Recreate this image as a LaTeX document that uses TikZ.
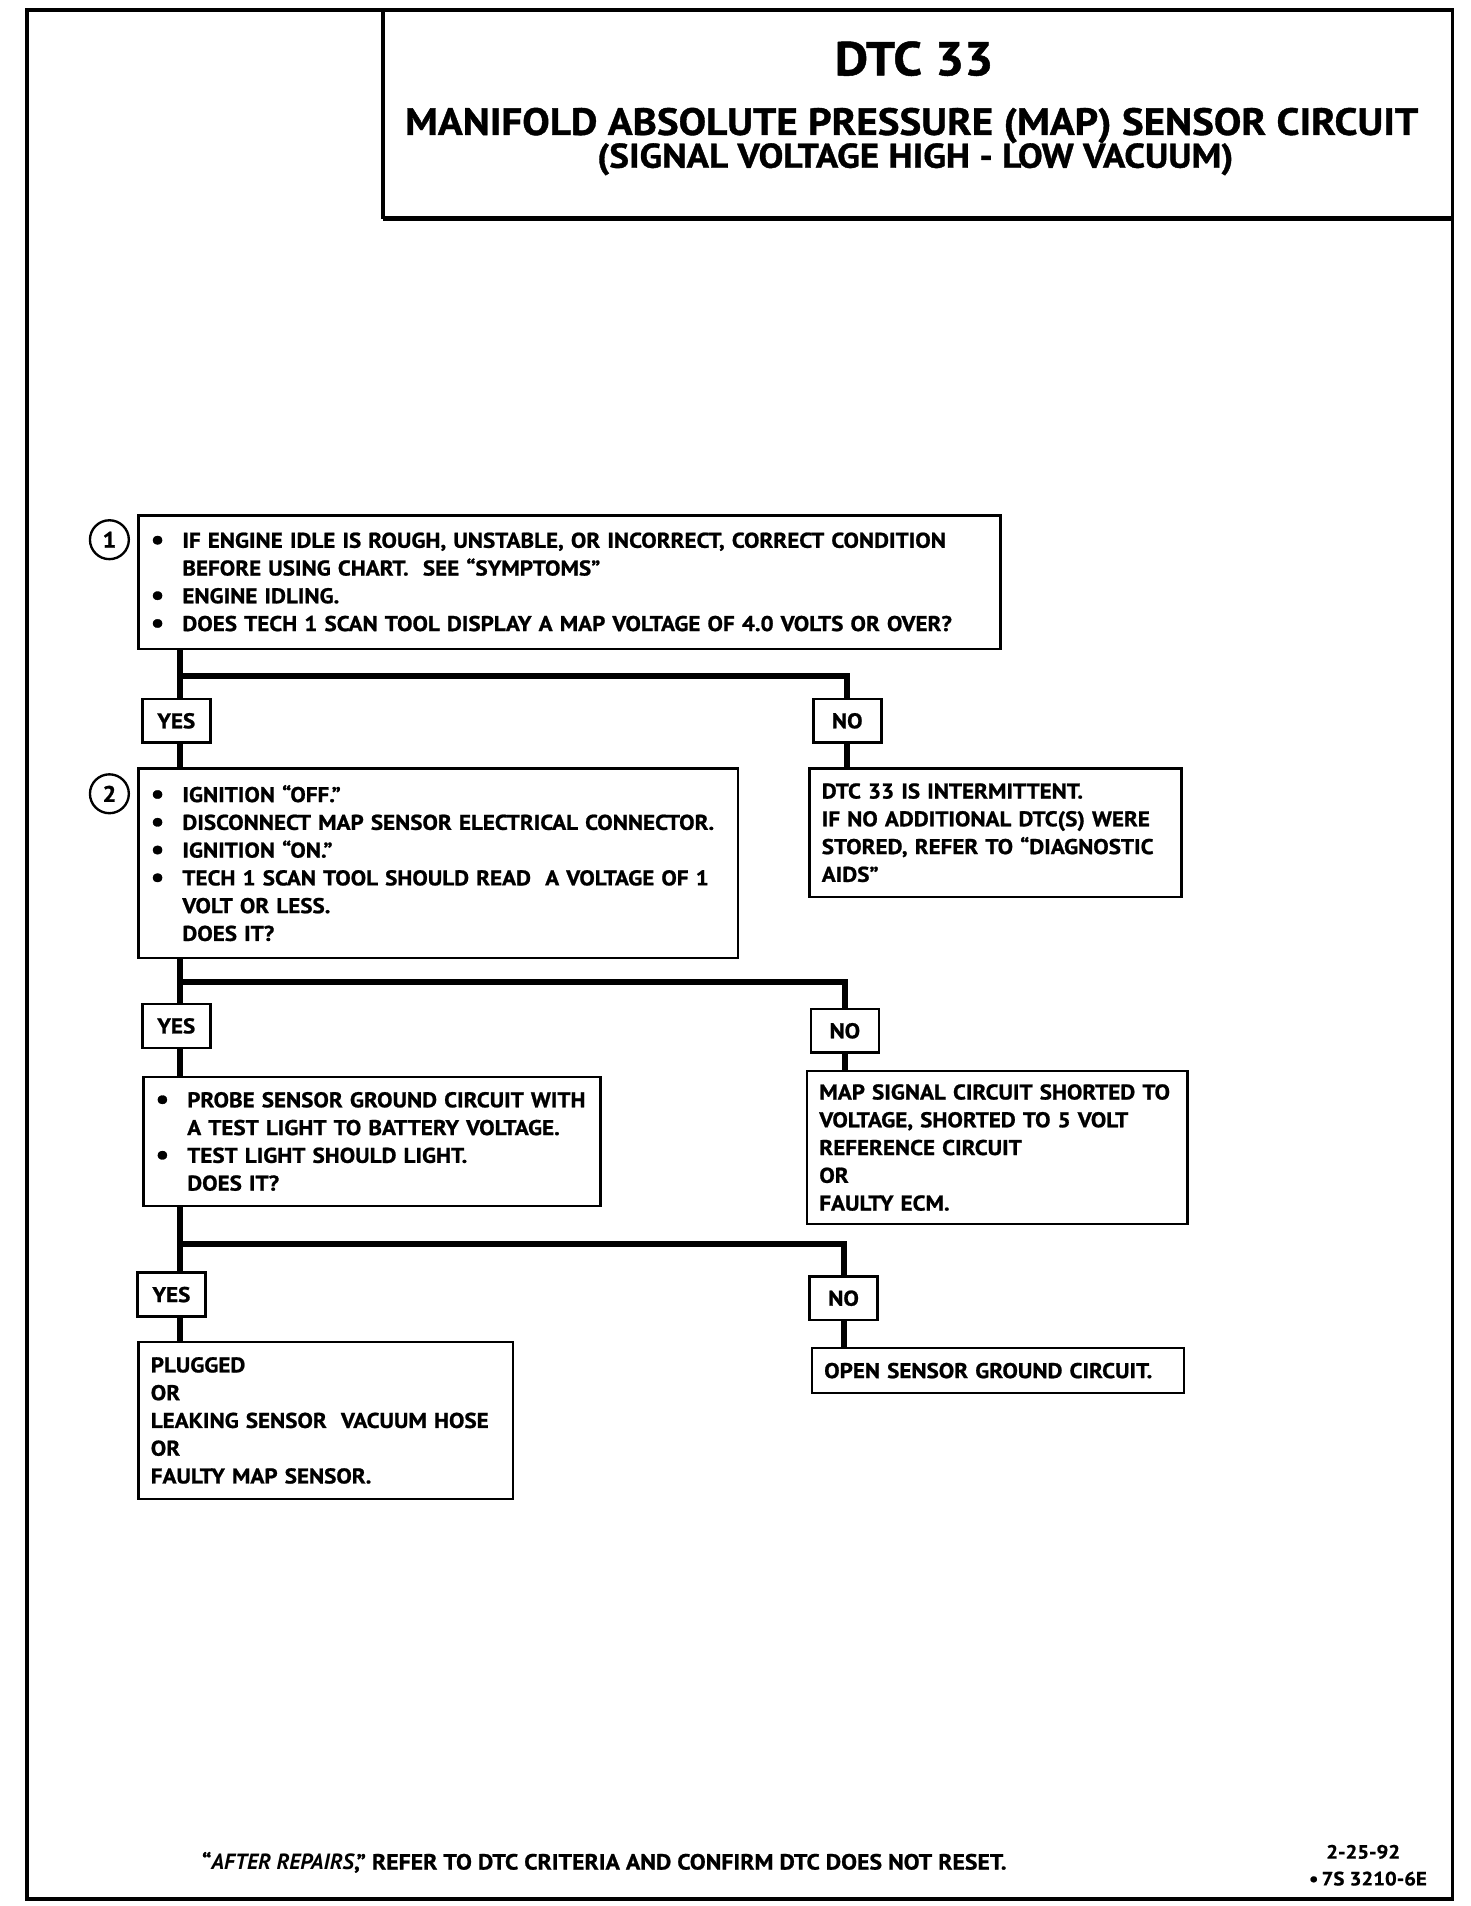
\documentclass[tikz,border=0pt]{standalone}
\usepackage{fontspec}
\setmainfont{PT Sans}[BoldFeatures={FakeStretch=1.08, FakeBold=1}]
\usetikzlibrary{positioning}

\newlength{\einzug}
\setlength{\einzug}{0.52cm}
\newcommand{\bpunkt}{\makebox[\einzug][l]{\raisebox{-0.1ex}{\scalebox{1.3}{\textbullet}}}}
\newcommand{\weiter}{\hspace*{\einzug}}

\begin{document}
\begin{tikzpicture}[x=0.02cm, y=-0.02cm,
    kasten/.style={draw, line width=1.2pt, anchor=north west, align=left,
      inner xsep=0.2cm, inner ysep=0pt, font=\fontsize{10}{13}\selectfont\bfseries},
    antwort/.style={draw, line width=1.2pt, minimum width=1.12cm, minimum height=0.72cm,
      inner sep=0pt, font=\fontsize{10}{13}\selectfont\bfseries},
    nummer/.style={draw, circle, line width=1.1pt, minimum size=0.64cm, inner sep=0pt,
      font=\fontsize{10.5}{12}\selectfont\bfseries},
    linie/.style={line width=2.8pt},
  ]
  \useasboundingbox (0,0) rectangle (1210,1568);

  % frame and title
  \draw[line width=1.7pt] (22,8) rectangle (1195,1562);
  \draw[line width=1.7pt] (315,8) -- (315,180);
  \draw[line width=2.2pt] (315,180) -- (1195,180);

  \node[anchor=base, font=\fontsize{22.3}{26}\selectfont\bfseries] (titel) at (752,62) {DTC 33};
  \node[anchor=base, font=\fontsize{17.8}{20}\selectfont\bfseries] (untertitel) at (750,111)
    {MANIFOLD ABSOLUTE PRESSURE (MAP) SENSOR CIRCUIT};
  \node[anchor=base, font=\fontsize{16.1}{18}\selectfont\bfseries] (zusatz) at (753,138)
    {(SIGNAL VOLTAGE HIGH - LOW VACUUM)};

  % questions
  \node[kasten, text width=13.78cm, minimum height=2.2cm] (frage1) at (113,423)
    {\bpunkt IF ENGINE IDLE IS ROUGH, UNSTABLE, OR INCORRECT, CORRECT CONDITION\\
     \weiter BEFORE USING CHART.\ \ SEE “SYMPTOMS”\\
     \bpunkt ENGINE IDLING.\\
     \bpunkt DOES TECH 1 SCAN TOOL DISPLAY A MAP VOLTAGE OF 4.0 VOLTS OR OVER?};
  \node[nummer] (n1) at (90,444) {1};

  \node[kasten, text width=9.46cm, minimum height=3.12cm] (frage2) at (113,631)
    {\bpunkt IGNITION “OFF.”\\
     \bpunkt DISCONNECT MAP SENSOR ELECTRICAL CONNECTOR.\\
     \bpunkt IGNITION “ON.”\\
     \bpunkt TECH 1 SCAN TOOL SHOULD READ\ \ A VOLTAGE OF 1\\
     \weiter VOLT OR LESS.\\
     \weiter DOES IT?};
  \node[nummer] (n2) at (90,653) {2};

  \node[kasten, text width=7.12cm, minimum height=2.12cm] (frage3) at (117,885)
    {\bpunkt PROBE SENSOR GROUND CIRCUIT WITH\\
     \weiter A TEST LIGHT TO BATTERY VOLTAGE.\\
     \bpunkt TEST LIGHT SHOULD LIGHT.\\
     \weiter DOES IT?};

  % answers
  \node[antwort] (ja1) at (145,593) {YES};
  \node[antwort] (nein1) at (697,593) {NO};
  \node[antwort] (ja2) at (145,844) {YES};
  \node[antwort] (nein2) at (695,848) {NO};
  \node[antwort] (ja3) at (141,1065) {YES};
  \node[antwort] (nein3) at (694,1068) {NO};

  % results
  \node[kasten, text width=5.72cm, minimum height=2.12cm] (ergebnis1) at (665,631)
    {DTC 33 IS INTERMITTENT.\\
     IF NO ADDITIONAL DTC(S) WERE\\
     STORED, REFER TO “DIAGNOSTIC\\
     AIDS”};
  \node[kasten, text width=5.86cm, minimum height=2.52cm] (ergebnis2) at (663,880)
    {MAP SIGNAL CIRCUIT SHORTED TO\\
     VOLTAGE, SHORTED TO 5 VOLT\\
     REFERENCE CIRCUIT\\
     OR\\
     FAULTY ECM.};
  \node[kasten, text width=5.76cm, minimum height=2.58cm] (ergebnis3) at (113,1103)
    {PLUGGED\\
     OR\\
     LEAKING SENSOR\ \ VACUUM HOSE\\
     OR\\
     FAULTY MAP SENSOR.};
  \node[kasten, text width=5.72cm, minimum height=0.74cm] (ergebnis4) at (667,1108)
    {OPEN SENSOR GROUND CIRCUIT.};

  % connectors
  \coordinate (ast1) at (148,556);
  \coordinate (ast2) at (148,808);
  \coordinate (ast3) at (148,1023);

  \draw[linie] (frage1.south -| ast1) -- (ja1.north -| ast1);
  \draw[linie] (ast1) -| (nein1.north);
  \draw[linie] (ja1.south -| ast1) -- (frage2.north -| ast1);
  \draw[linie] (nein1.south) -- (ergebnis1.north -| nein1);

  \draw[linie] (frage2.south -| ast2) -- (ja2.north -| ast2);
  \draw[linie] (ast2) -| (nein2.north);
  \draw[linie] (ja2.south -| ast2) -- (frage3.north -| ast2);
  \draw[linie] (nein2.south) -- (ergebnis2.north -| nein2);

  \draw[linie] (frage3.south -| ast3) -- (ja3.north -| ast3);
  \draw[linie] (ast3) -| (nein3.north);
  \draw[linie] (ja3.south -| ast3) -- (ergebnis3.north -| ast3);
  \draw[linie] (nein3.south) -- (ergebnis4.north -| nein3);

  % footer
  \node[anchor=base west, font=\fontsize{10.3}{12}\selectfont\bfseries] (hinweis) at (160,1538)
    {“\textit{AFTER REPAIRS},” REFER TO DTC CRITERIA AND CONFIRM DTC DOES NOT RESET.};
  \node[anchor=base east, font=\fontsize{9}{11}\selectfont\bfseries] (datum) at (1158,1529) {2-25-92};
  \node[anchor=base east, font=\fontsize{9}{11}\selectfont\bfseries] (nummer) at (1180,1551)
    {\textbullet\,7S 3210-6E};
\end{tikzpicture}
\end{document}
